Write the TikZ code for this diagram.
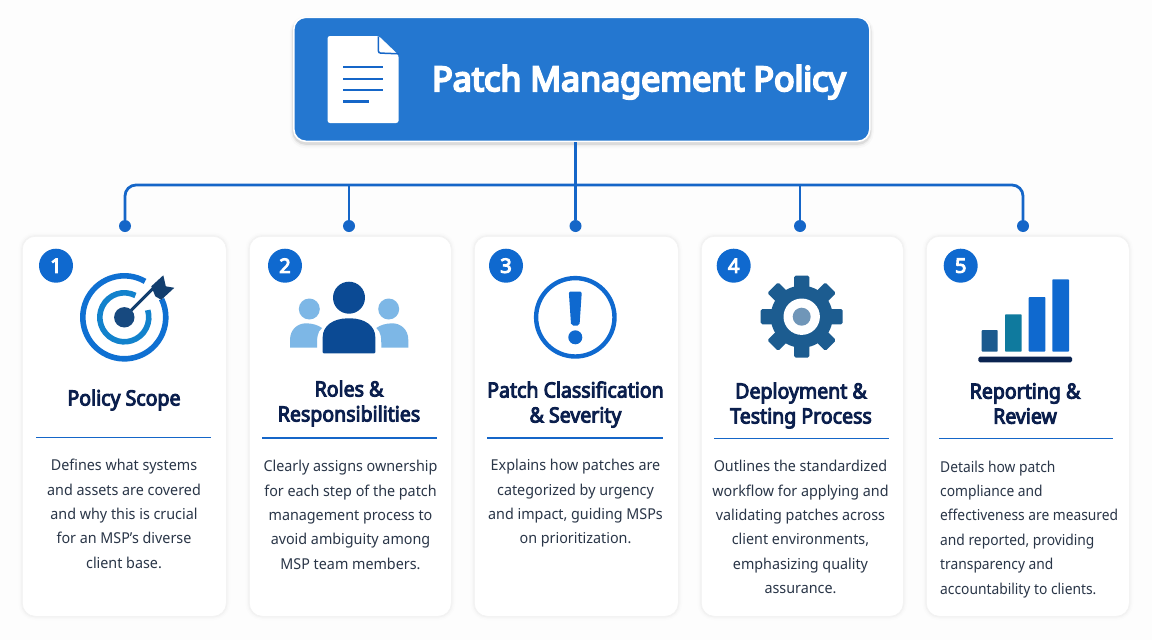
\documentclass[tikz,border=0pt]{standalone}
\usepackage{fontspec}
\setmainfont{Noto Sans}[FakeStretch=0.955]
\newfontfamily\tightfont{Noto Sans}[FakeStretch=0.92]
\newfontfamily\ttlfont{Noto Sans}[FakeStretch=0.93,RawFeature={embolden=4.5}]
\newfontfamily\headfont{Noto Sans}[FakeStretch=1.0,RawFeature={embolden=6}]
\newfontfamily\numfont{Noto Sans}[RawFeature={embolden=5}]
\definecolor{bgc}{HTML}{FDFDFD}
\definecolor{headc}{HTML}{2477D0}
\definecolor{linec}{HTML}{1566C8}
\definecolor{navy}{HTML}{0B1F4D}
\definecolor{bodyc}{HTML}{2A3648}
\definecolor{ringa}{HTML}{0F70D2}
\definecolor{ringb}{HTML}{1282CC}
\definecolor{dartc}{HTML}{123E6E}
\definecolor{bull}{HTML}{17497F}
\definecolor{peopd}{HTML}{0B4A94}
\definecolor{peopl}{HTML}{7DB7E6}
\definecolor{gearc}{HTML}{1C5C90}
\definecolor{gearh}{HTML}{7096B8}
\definecolor{barb}{HTML}{0F7A9E}
\definecolor{bara}{HTML}{1B5A8E}
\definecolor{barc}{HTML}{0F69CF}
\definecolor{basec}{HTML}{0A2350}
\tikzset{
  softglow/.style={
    preaction={draw=black,draw opacity=.008,line width=8pt},
    preaction={draw=black,draw opacity=.012,line width=5pt},
    preaction={draw=black,draw opacity=.018,line width=2.5pt}},
  headglow/.style={
    preaction={draw=black,draw opacity=.02,line width=8pt,transform canvas={yshift=-3pt}},
    preaction={draw=black,draw opacity=.04,line width=5pt,transform canvas={yshift=-2.5pt}},
    preaction={draw=black,draw opacity=.08,line width=3pt,transform canvas={yshift=-2pt}}},
  cardbox/.style={softglow,anchor=north west,rectangle,rounded corners=13pt,fill=white,draw=black!5,line width=.6pt,inner sep=0pt},
  headbox/.style={headglow,anchor=north west,rectangle,rounded corners=12pt,fill=headc,draw=white,line width=1.6pt,inner sep=0pt,minimum width=576pt,minimum height=124pt},
  conn/.style={draw=linec,line width=2.8pt},
  pin/.style={circle,fill=linec,inner sep=0pt,minimum size=12pt},
  badge/.style={circle,fill=barc,inner sep=0pt,minimum size=34pt,text=white,font=\fontsize{20}{24}\selectfont\numfont},
  ctitle/.style={inner sep=0pt,align=center,text=navy,font=\fontsize{21}{25}\selectfont\ttlfont},
  cbody/.style={inner sep=0pt,anchor=north,align=center,text=bodyc,font=\fontsize{15}{24.4}\selectfont},
  cbodyl/.style={inner sep=0pt,anchor=north west,align=left,text=bodyc,font=\fontsize{15}{24.4}\selectfont\tightfont},
  rule/.style={draw=linec,line width=1.8pt}
}
\begin{document}
\begin{tikzpicture}[x=1pt,y=1pt,yscale=-1]
\fill[bgc] (0,0) rectangle (1152,640);
\useasboundingbox (0,0) rectangle (1152,640);
% header
\node[headbox] (header) at (293,16.5) {};
\node[anchor=base west,inner sep=0pt,text=white,font=\fontsize{34}{40}\selectfont\headfont] (headtitle) at (432,91) {Patch Management Policy};
% document icon
\fill[white,rounded corners=2.5pt] (327.5,36) -- (327.5,123) -- (398.6,123) -- (398.6,55) -- (378.7,36) -- cycle;
\draw[linec,line width=1.5pt,rounded corners=2pt] (378.4,36.5) -- (378.4,53) -- (398.6,53.8);
\foreach \yy/\xe in {67/383,79/383,90/383,101.7/369}{
  \fill[linec] (343,\yy-1.4) rectangle (\xe,\yy+1.4);
}
% pins
\node[pin] (p1) at (125,226) {};
\node[pin] (p2) at (349,226) {};
\node[pin] (p3) at (575.5,226) {};
\node[pin] (p4) at (800,226) {};
\node[pin] (p5) at (1023,226) {};
\coordinate (bus) at (576,185);
\draw[conn,rounded corners=11pt] (p1) -- (p1 |- bus) -- (p5 |- bus) -- (p5);
\draw[conn] (header.south -| p3) -- (p3);
\draw[conn] (p2) -- (p2 |- bus);
\draw[conn] (p4) -- (p4 |- bus);
% cards
\node[cardbox,minimum width=204pt,minimum height=380pt] (c1) at (22,236) {};
\node[cardbox,minimum width=202pt,minimum height=380pt] (c2) at (249,236) {};
\node[cardbox,minimum width=204pt,minimum height=380pt] (c3) at (474,236) {};
\node[cardbox,minimum width=202pt,minimum height=380pt] (c4) at (701,236) {};
\node[cardbox,minimum width=203pt,minimum height=380pt] (c5) at (926,236) {};
% badges
\node[badge] (b1) at (56,265.7) {1};
\node[badge] (b2) at (285,265.7) {2};
\node[badge] (b3) at (506,265.7) {3};
\node[badge] (b4) at (733.7,265.7) {4};
\node[badge] (b5) at (960.7,265.7) {5};
% target icon
\begin{scope}[shift={(124.3,317.3)}]
  \draw[ringa,line width=5.6pt] (-60:41.5) arc (-60:-386:41.5);
  \draw[ringb,line width=5.6pt] (-63:24.5) arc (-63:-377:24.5);
  \draw[dartc,line width=3pt] (0,0) -- (32,-32);
  \fill[dartc] (27,-31) -- (39,-42) -- (41.5,-31) -- (50,-29.5) -- (37,-17.5) -- (31,-21) -- cycle;
  \fill[bull] (0,0) circle (10.2);
\end{scope}
% people icon
\fill[peopl] (309.3,309) circle (10.5);
\fill[peopl] (388.7,309) circle (10.5);
\fill[peopl] (290,347.5) -- (290,340) .. controls (290,329) and (298,323.3) .. (306,323.3) .. controls (312,323.3) and (318,325) .. (322,328) .. controls (317,332) and (317,338) .. (317,347.5) -- cycle;
\fill[peopl] (408.3,347.5) -- (408.3,340) .. controls (408.3,329) and (400.3,323.3) .. (392.3,323.3) .. controls (386.3,323.3) and (380.3,325) .. (376.3,328) .. controls (381.3,332) and (381.3,338) .. (381.3,347.5) -- cycle;
\fill[peopd] (349,297.7) circle (16);
\fill[peopd,rounded corners=1pt] (322.7,353.3) -- (322.7,338) .. controls (322.7,326) and (333,318.3) .. (349,318.3) .. controls (365,318.3) and (375.3,326) .. (375.3,338) -- (375.3,353.3) -- cycle;
% alert icon
\draw[barc,line width=4.4pt] (575.3,317.3) circle (39.2);
\fill[barc,rounded corners=2pt] (568.8,291.5) -- (581.8,291.5) -- (579.5,325.5) -- (571.1,325.5) -- cycle;
\fill[barc] (575.3,337.3) circle (7);
% gear icon
\begin{scope}[shift={(801.7,316.7)}]
  \foreach \aa in {0,45,...,315}{
    \fill[gearc,rounded corners=1.6pt,rotate=\aa] (-7.6,-25) rectangle (7.6,-41);
  }
  \fill[gearc] (0,0) circle (31);
  \fill[white] (0,0) circle (18.2);
  \fill[gearh] (0,0) circle (9);
\end{scope}
% bar icon
\fill[bara,rounded corners=.8pt] (981.7,330) rectangle (997.7,351.7);
\fill[barb,rounded corners=.8pt] (1005,314.3) rectangle (1021.7,351.7);
\fill[barc,rounded corners=.8pt] (1028.7,297) rectangle (1045.3,351.7);
\fill[barc,rounded corners=.8pt] (1052.3,279.3) rectangle (1069,351.7);
\fill[basec,rounded corners=1.5pt] (978.3,356.7) rectangle (1072,362.3);
% titles
\node[ctitle] (t1) at (124,400) {Policy Scope};
\node[ctitle] (t2) at (349,403.5) {Roles \&\\Responsibilities};
\node[ctitle] (t3) at (575.5,404.5) {Patch Classification\\\& Severity};
\node[ctitle] (t4) at (801,405.5) {Deployment \&\\Testing Process};
\node[ctitle] (t5) at (1025,403.5) {Reporting \&\\Review};
% rules
\draw[rule] (36,437.5) -- (211,437.5);
\draw[rule] (262,438) -- (437,438);
\draw[rule] (487,438) -- (663,438);
\draw[rule] (714,438.5) -- (889,438.5);
\draw[rule] (939,438.5) -- (1113,438.5);
% bodies
\node[cbody] (d1) at (124,459) {Defines what systems\\and assets are covered\\and why this is crucial\\for an MSP's diverse\\client base.};
\node[cbody] (d2) at (350.5,460) {Clearly assigns ownership\\for each step of the patch\\management process to\\avoid ambiguity among\\MSP team members.};
\node[cbody] (d3) at (575.5,459) {Explains how patches are\\categorized by urgency\\and impact, guiding MSPs\\on prioritization.};
\node[cbody] (d4) at (800.5,460) {Outlines the standardized\\workflow for applying and\\validating patches across\\client environments,\\emphasizing quality\\assurance.};
\node[cbodyl] (d5) at (940,460.5) {Details how patch\\compliance and\\effectiveness are measured\\and reported, providing\\transparency and\\accountability to clients.};
\end{tikzpicture}
\end{document}
